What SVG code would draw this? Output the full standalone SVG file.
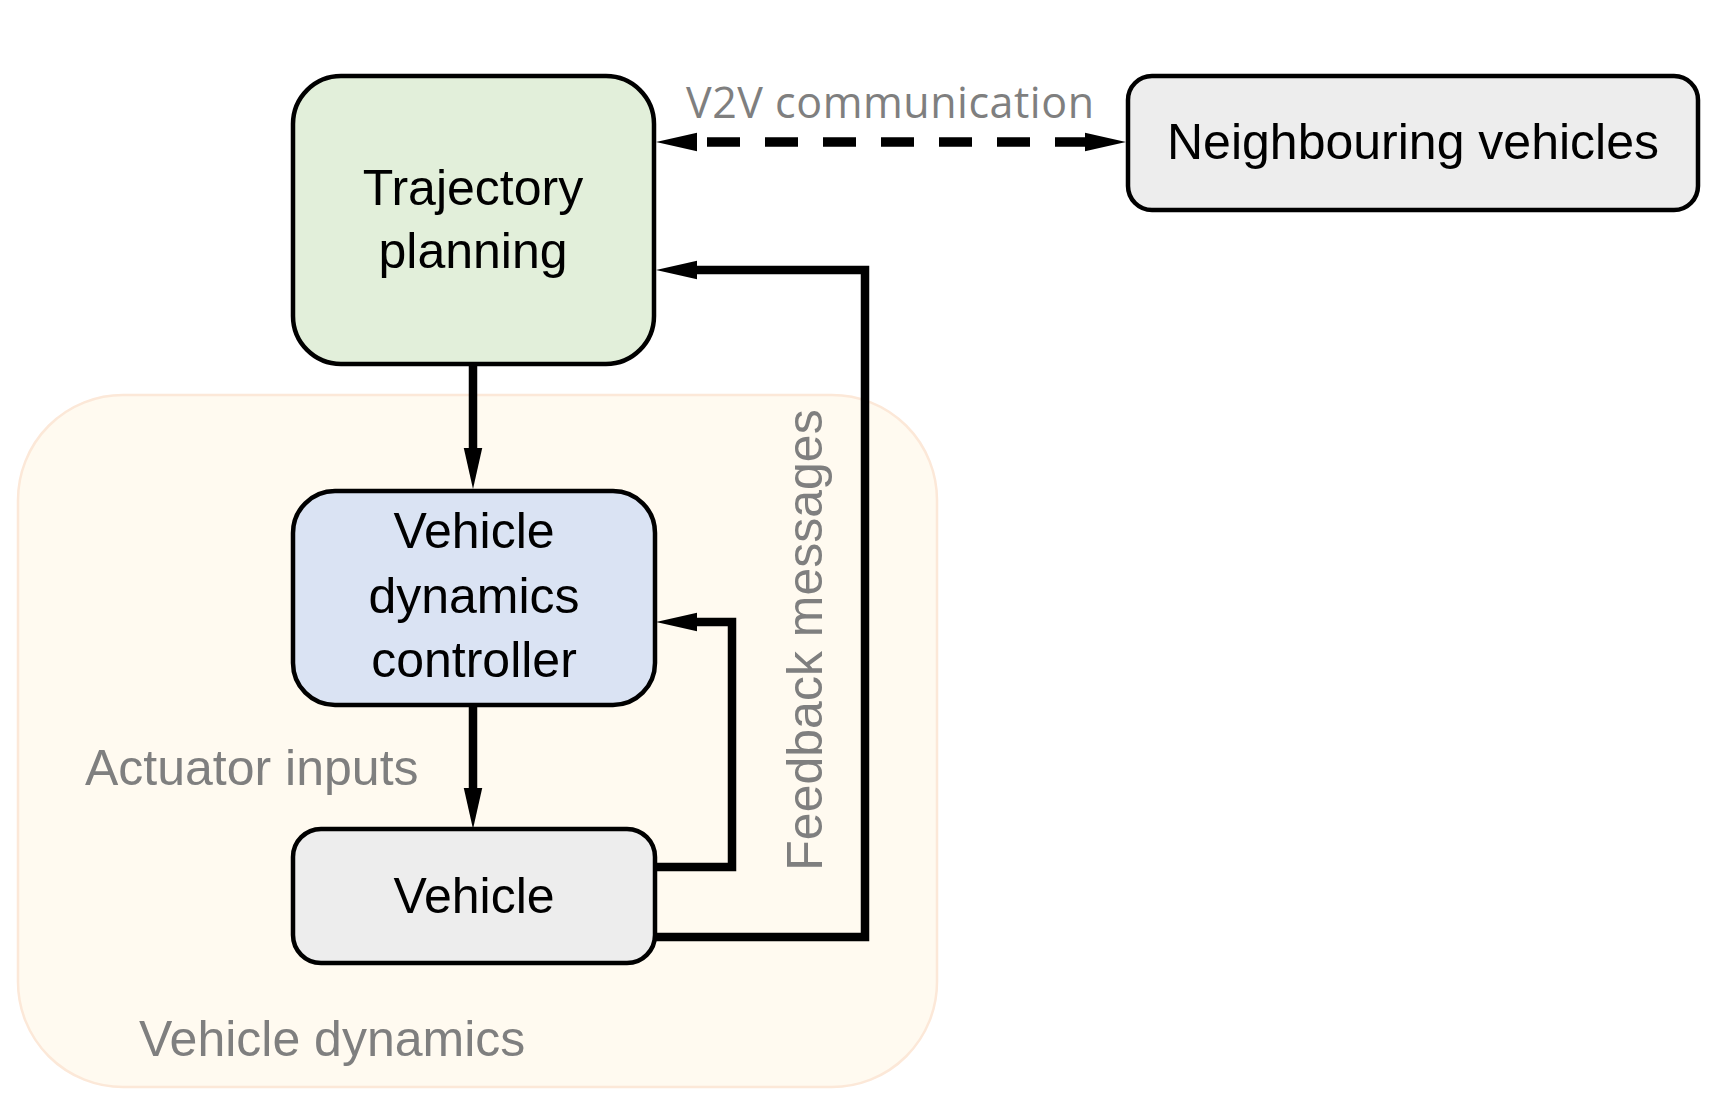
<svg xmlns="http://www.w3.org/2000/svg" width="1714" height="1106" viewBox="0 0 1714 1106">
<style>
.node{stroke:#000;stroke-width:4.5}
.ntext{font-family:"Liberation Sans",Arial,sans-serif;font-size:50px;fill:#000;text-anchor:middle}
.label{font-family:"Liberation Sans",Arial,sans-serif;font-size:50px;fill:#7F7F7F}
.v2v{font-family:"Open Sans","Noto Sans",sans-serif;font-size:43px;fill:#7F7F7F}
.conn{fill:none;stroke:#000;stroke-width:8.5;stroke-linejoin:miter;stroke-linecap:butt}
.dash{fill:none;stroke:#000;stroke-width:9.5;stroke-dasharray:33 25;stroke-dashoffset:48}
</style>
<defs>
<marker id="arrow" markerUnits="userSpaceOnUse" markerWidth="42" markerHeight="22" viewBox="0 -10 41 20" refX="0" refY="0" orient="auto-start-reverse">
<path d="M0,-9 L40,0 L0,9 Z" fill="#000"/>
</marker>
</defs>
<rect width="1714" height="1106" fill="#fff"/>
<g id="group-vehicle-dynamics">
<rect x="18" y="395" width="919" height="692" rx="105" ry="105" fill="#FFFAF0" stroke="#FCE8D8" stroke-width="2.5"/>
<text class="label" x="139" y="1056">Vehicle dynamics</text>
</g>
<g id="connectors">
<path class="conn" d="M473,366 V448" marker-end="url(#arrow)"/>
<path class="conn" d="M473,707 V788" marker-end="url(#arrow)"/>
<path class="conn" d="M656,867 H732 V622 H697" marker-end="url(#arrow)"/>
<path class="conn" d="M656,937 H865 V270 H697" marker-end="url(#arrow)"/>
<path class="dash" d="M697,142 H1085" marker-start="url(#arrow)" marker-end="url(#arrow)"/>
<text class="v2v" x="686" y="118" textLength="408">V2V communication</text>
<text class="label" x="85" y="785">Actuator inputs</text>
<text class="label" transform="translate(822,640) rotate(-90)" text-anchor="middle">Feedback messages</text>
</g>
<g id="node-trajectory-planning">
<rect class="node" x="293" y="76" width="361" height="288" rx="48" ry="48" fill="#E2EFDA"/>
<text class="ntext" x="473" y="205">Trajectory</text>
<text class="ntext" x="473" y="268">planning</text>
</g>
<g id="node-neighbouring-vehicles">
<rect class="node" x="1128" y="76" width="570" height="134" rx="24" ry="24" fill="#EDEDED"/>
<text class="ntext" x="1413" y="159">Neighbouring vehicles</text>
</g>
<g id="node-vehicle-dynamics-controller">
<rect class="node" x="293" y="491" width="362" height="214" rx="42" ry="42" fill="#DAE3F3"/>
<text class="ntext" x="474" y="548">Vehicle</text>
<text class="ntext" x="474" y="613">dynamics</text>
<text class="ntext" x="474" y="677">controller</text>
</g>
<g id="node-vehicle">
<rect class="node" x="293" y="829" width="362" height="134" rx="28" ry="28" fill="#EDEDED"/>
<text class="ntext" x="474" y="913">Vehicle</text>
</g>
</svg>
